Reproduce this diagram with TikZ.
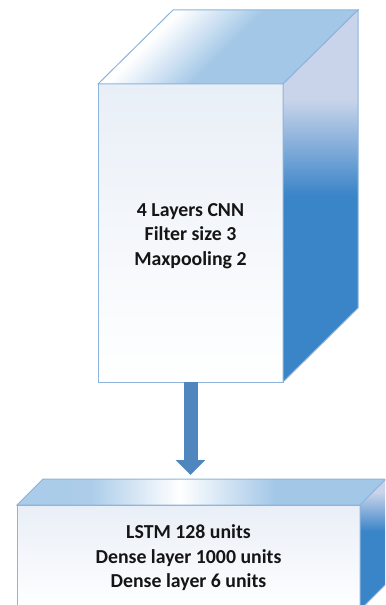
\documentclass[tikz,border=0pt]{standalone}
\usepackage{fontspec}
\setmainfont{Carlito}
\usetikzlibrary{arrows.meta,calc}
\definecolor{edge}{HTML}{8DB4DC}
\definecolor{topblue}{HTML}{A3C7E7}
\definecolor{sidelt}{HTML}{C9D4EA}
\definecolor{sidedk}{HTML}{3A84C8}
\definecolor{frontlt}{HTML}{E9EFF7}
\definecolor{arrowblue}{HTML}{4F86BD}
\definecolor{txt}{HTML}{151515}
\pgfdeclareverticalshading{sideshadeA}{100bp}{color(0bp)=(sidedk); color(50bp)=(sidedk); color(63bp)=(sidelt); color(100bp)=(sidelt)}
\pgfdeclareverticalshading{sideshadeB}{100bp}{color(0bp)=(sidedk); color(55bp)=(sidedk); color(70bp)=(sidelt); color(100bp)=(sidelt)}
\pgfdeclarehorizontalshading{topshadeA}{100bp}{color(0bp)=(white); color(32bp)=(white); color(50bp)=(topblue); color(100bp)=(topblue)}
\pgfdeclarehorizontalshading{topshadeB}{100bp}{color(0bp)=(topblue); color(35bp)=(topblue!90!white); color(47bp)=(white); color(60bp)=(topblue); color(100bp)=(topblue)}
\tikzset{
  face/.style={draw=edge, line width=1bp, rectangle, inner sep=0pt, outer sep=0pt, top color=frontlt, bottom color=white},
  facet/.style={draw=edge, line width=1bp, line join=miter},
  flowarrow/.style={draw=arrowblue, line width=14bp, -{Triangle[width=29bp,length=15bp]}, fill=arrowblue},
  boxtext/.style={align=center, text=txt, font=\fontsize{19.8bp}{24.5bp}\selectfont\bfseries, inner sep=0pt}
}
\begin{document}
\begin{tikzpicture}[x=1bp,y=-1bp]
\useasboundingbox (0,0) rectangle (385,605);
\clip (0,0) rectangle (385,605);
% front faces (nodes)
\node[face, minimum width=185bp, minimum height=298bp, anchor=north west] (cnn) at (98,84) {};
\node[face, minimum width=343bp, minimum height=105bp, anchor=north west] (lstm) at (17,505) {};
\coordinate (tipc) at ($(lstm.north)+(0,-30)$);
% connector
\draw[flowarrow] (cnn.south) -- (cnn.south |- tipc);
% CNN box facets
\shadedraw[facet, shading=topshadeA, shading angle=-45] (cnn.north west) -- ++(75,-74) -- ($(cnn.north east)+(75,-74)$) -- (cnn.north east) -- cycle;
\shadedraw[facet, shading=sideshadeA] (cnn.north east) -- ++(75,-74) -- ($(cnn.south east)+(75,-74)$) -- (cnn.south east) -- cycle;
% LSTM box facets
\shadedraw[facet, shading=topshadeB] (lstm.north west) -- ++(26,-26) -- ($(lstm.north east)+(26,-26)$) -- (lstm.north east) -- cycle;
\shadedraw[facet, shading=sideshadeB] (lstm.north east) -- ++(26,-26) -- ($(lstm.south east)+(26,-26)$) -- (lstm.south east) -- cycle;
% texts
\node[boxtext] (cnntext) at ($(cnn.center)+(0,3)$) {4 Layers CNN\\Filter size 3\\Maxpooling 2};
\node[boxtext] (lstmtext) at ($(lstm.center)+(0,0.5)$) {LSTM 128 units\\Dense layer 1000 units\\Dense layer 6 units};
\end{tikzpicture}
\end{document}
